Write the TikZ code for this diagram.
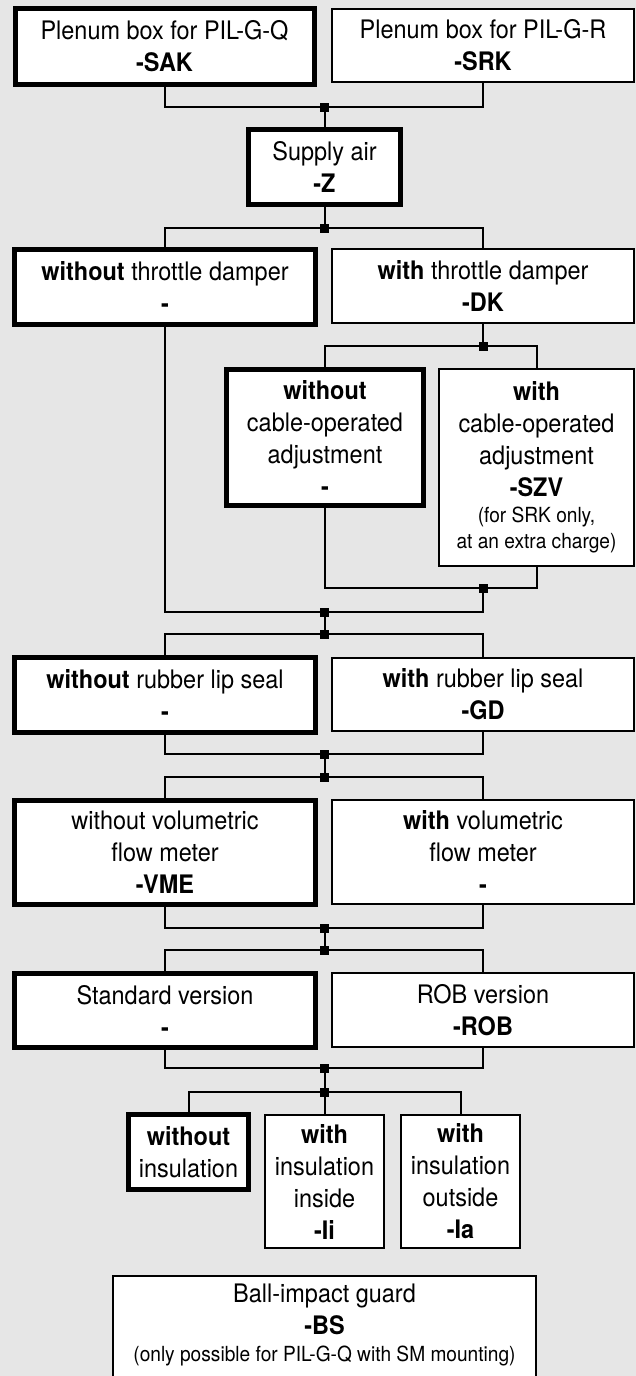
\documentclass[tikz,border=0pt]{standalone}
\usepackage{fontspec}
\setmainfont{TeX Gyre Heros}[FakeStretch=0.92]
\newcommand\myMainFont{\fontsize{25.5}{32}\selectfont}
\newcommand\mySmallFont{\fontsize{20.8}{26}\selectfont}
\definecolor{bgc}{RGB}{230,230,230}
\tikzset{
  optbox/.style={draw=black, fill=white, line width=2pt, rectangle, inner sep=0pt, align=center, font=\myMainFont},
  selbox/.style={optbox, line width=5pt},
  ln/.style={line width=2pt, draw=black},
  jn/.style={fill=black, rectangle, minimum size=9pt, inner sep=0pt, outer sep=0pt},
}
\begin{document}
\begin{tikzpicture}[x=1pt,y=-1pt]
\useasboundingbox (0,0) rectangle (636,1376);
\clip (0,0) rectangle (636,1376);
\fill[bgc] (0,0) rectangle (636,1376);

% boxes
\node[selbox, minimum width=299pt, minimum height=76pt] (sak) at (164.5,46.5) {Plenum box for PIL-G-Q\\\textbf{-SAK}};
\node[optbox, minimum width=302pt, minimum height=73pt] (srk) at (483,45.5) {Plenum box for PIL-G-R\\\textbf{-SRK}};
\node[selbox, minimum width=152pt, minimum height=75pt] (z) at (324.5,167) {Supply air\\\textbf{-Z}};
\node[selbox, minimum width=301pt, minimum height=75pt] (nodk) at (165,287) {\textbf{without} throttle damper\\\textbf{-}};
\node[optbox, minimum width=302pt, minimum height=74pt] (dk) at (483,286) {\textbf{with} throttle damper\\\textbf{-DK}};
\node[selbox, minimum width=197pt, minimum height=136pt] (noszv) at (325,437.5) {\textbf{without}\\cable-operated\\adjustment\\\textbf{-}};
\node[optbox, minimum width=195pt, minimum height=197pt] (szv) at (536.5,467.5) {\textbf{with}\\cable-operated\\adjustment\\\textbf{-SZV}\\[-6pt]{\mySmallFont (for SRK only,}\\[-6pt]{\mySmallFont at an extra charge)}};
\node[selbox, minimum width=301pt, minimum height=75pt] (nogd) at (165,695) {\textbf{without} rubber lip seal\\\textbf{-}};
\node[optbox, minimum width=302pt, minimum height=73pt] (gd) at (483,694.5) {\textbf{with} rubber lip seal\\\textbf{-GD}};
\node[selbox, minimum width=301pt, minimum height=104pt] (vme) at (165,852.5) {without volumetric\\flow meter\\\textbf{-VME}};
\node[optbox, minimum width=302pt, minimum height=104pt] (novme) at (483,852) {\textbf{with} volumetric\\flow meter\\\textbf{-}};
\node[selbox, minimum width=301pt, minimum height=74pt] (std) at (165,1010.5) {Standard version\\\textbf{-}};
\node[optbox, minimum width=302pt, minimum height=74pt] (rob) at (483,1010) {ROB version\\\textbf{-ROB}};
\node[selbox, minimum width=120pt, minimum height=75pt] (noins) at (188.5,1152) {\textbf{without}\\insulation};
\node[optbox, minimum width=119pt, minimum height=133pt] (ii) at (324.5,1181.5) {\textbf{with}\\insulation\\inside\\\textbf{-Ii}};
\node[optbox, minimum width=119pt, minimum height=133pt] (ia) at (460.5,1181.5) {\textbf{with}\\insulation\\outside\\\textbf{-Ia}};
\node[optbox, minimum width=423pt, minimum height=125pt, anchor=north] (bs) at (324.5,1275) {};
\node[align=center, font=\myMainFont, inner sep=0pt, anchor=north] (bstext) at (324.5,1284) {Ball-impact guard\\\textbf{-BS}\\[-5pt]{\mySmallFont (only possible for PIL-G-Q with SM mounting)}};

% junction points
\coordinate (j1) at (324.5,107);
\coordinate (j2) at (324.5,228);
\coordinate (j3) at (483,346);
\coordinate (j4) at (483,588);
\coordinate (j5) at (324.5,612);
\coordinate (j6) at (324.5,634);
\coordinate (j7) at (324.5,754);
\coordinate (j8) at (324.5,777);
\coordinate (j9) at (324.5,928);
\coordinate (j10) at (324.5,950);
\coordinate (j11) at (324.5,1068);
\coordinate (j12) at (324.5,1092);

% connectors
\draw[ln] (sak.south) |- (j1) -| (srk.south);
\draw[ln] (j1) -- (z.north);
\draw[ln] (z.south) -- (j2);
\draw[ln] (nodk.north) |- (j2) -| (dk.north);
\draw[ln] (dk.south) -- (j3);
\draw[ln] (noszv.north) |- (j3) -| (szv.north);
\draw[ln] (noszv.south) |- (j4) -| (szv.south);
\draw[ln] (nodk.south) |- (j5) -| (j4);
\draw[ln] (j5) -- (j6);
\draw[ln] (nogd.north) |- (j6) -| (gd.north);
\draw[ln] (nogd.south) |- (j7) -| (gd.south);
\draw[ln] (j7) -- (j8);
\draw[ln] (vme.north) |- (j8) -| (novme.north);
\draw[ln] (vme.south) |- (j9) -| (novme.south);
\draw[ln] (j9) -- (j10);
\draw[ln] (std.north) |- (j10) -| (rob.north);
\draw[ln] (std.south) |- (j11) -| (rob.south);
\draw[ln] (j11) -- (j12);
\draw[ln] (noins.north) |- (j12) -| (ia.north);
\draw[ln] (j12) -- (ii.north);

% junction squares
\foreach \j in {1,...,12} {\node[jn] (jn\j) at (j\j) {};}
\end{tikzpicture}
\end{document}
